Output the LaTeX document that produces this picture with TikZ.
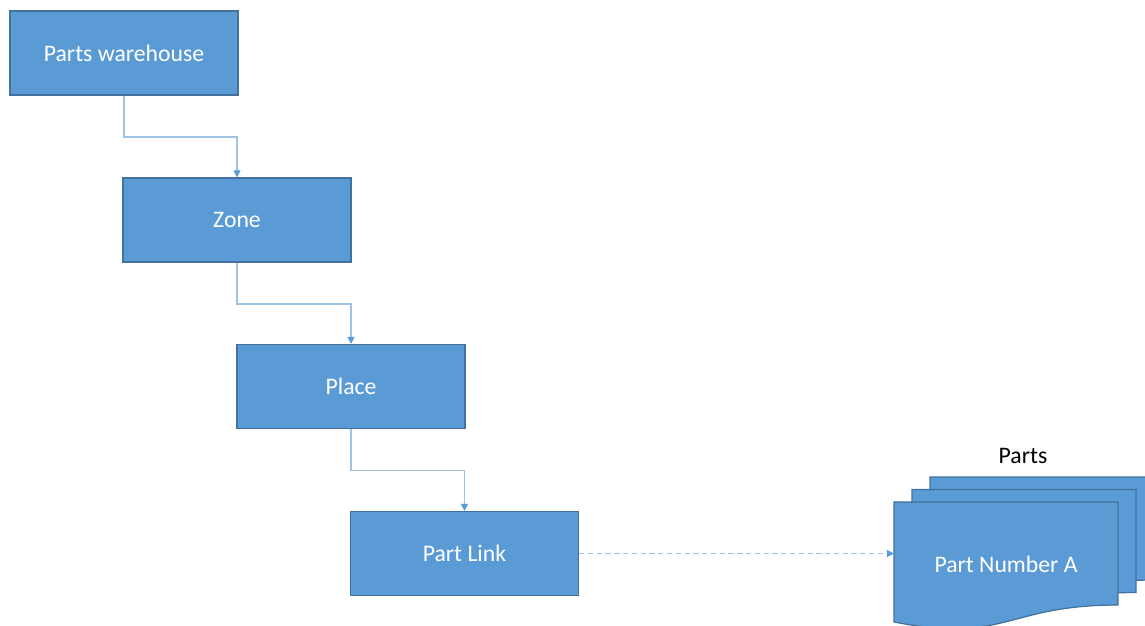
\documentclass[tikz,border=0pt]{standalone}
\usepackage{fontspec}
\setmainfont{Carlito}
\usetikzlibrary{arrows.meta}
\definecolor{boxfill}{HTML}{5B9BD5}
\definecolor{boxline}{HTML}{41719C}
\definecolor{connline}{HTML}{9DC3E6}
\definecolor{arrowcol}{HTML}{5B9BD5}
\tikzset{
  procbox/.style={draw=boxline, line width=0.7pt, fill=boxfill, text=white,
    minimum width=4.56cm, minimum height=1.68cm, inner sep=0pt,
    font=\fontsize{13.5}{16}\selectfont},
  conn/.style={draw=connline, line width=0.7pt,
    -{Triangle[length=4pt,width=4pt,fill=arrowcol,color=arrowcol]}},
  dconn/.style={conn, dashed, dash pattern=on 3pt off 2pt},
  docshape/.style={draw=boxline, line width=0.7pt, fill=boxfill},
}
\begin{document}
\begin{tikzpicture}[x=0.02cm,y=-0.02cm]
\clip (0,0) rectangle (1145,625);
\fill[white] (0,0) rectangle (1145,625);
\useasboundingbox (0,0) rectangle (1145,625);

\node[procbox] (pw) at (124,53) {Parts warehouse};
\node[procbox] (zone) at (237,220) {Zone};
\node[procbox] (place) at (351,386.5) {Place};
\node[procbox] (link) at (464.5,553.5) {Part Link};

\draw[conn] (pw.south) -- ++(0,41.5) -| (zone.north);
\draw[conn] (zone.south) -- ++(0,41.5) -| (place.north);
\draw[conn] (place.south) -- ++(0,41.5) -| (link.north);

% stacked documents
\foreach \dx/\dy in {36/-25, 18/-12.5, 0/0}{
  \begin{scope}[shift={(\dx,\dy)}]
    \path[docshape] (894,502) -- (1118,502) -- (1118,605)
      .. controls (1006,605) and (1006,644) .. (894,622) -- cycle;
  \end{scope}
}
\node[text=white, font=\fontsize{13.5}{16}\selectfont] (pna) at (1006,564) {Part Number A};
\node[text=black, font=\fontsize{13.5}{16}\selectfont] (parts) at (1023,456) {Parts};
\coordinate (docin) at (894,553.5);

\draw[dconn] (link.east) -- (docin);
\end{tikzpicture}
\end{document}
